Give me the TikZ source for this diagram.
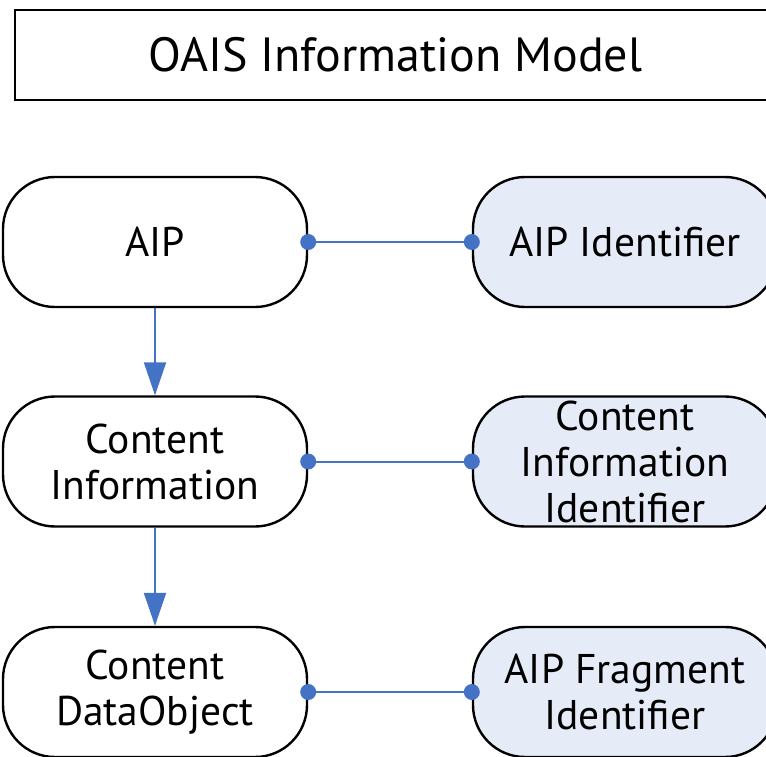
\documentclass[tikz,border=0pt]{standalone}
\usepackage{fontspec}
\setmainfont{PT Sans}
\usetikzlibrary{arrows.meta}
\definecolor{linkblue}{RGB}{68,114,196}
\definecolor{idfill}{RGB}{230,236,247}
\tikzset{
  titlebox/.style={draw=black, line width=1.8pt, minimum width=761pt, minimum height=90pt, inner sep=0pt, font=\fontsize{48}{56}\selectfont},
  objbox/.style={draw=black, line width=2.4pt, rounded corners=52pt, minimum width=304pt, minimum height=130pt, inner sep=0pt, align=center, font=\fontsize{41.5}{46}\selectfont},
  idbox/.style={objbox, fill=idfill},
  link/.style={draw=linkblue, line width=2pt},
  flow/.style={draw=linkblue, line width=2pt, -{Triangle[length=33pt,width=22pt]}},
  dotted end/.style={fill=linkblue, draw=none, circle, minimum size=16pt, inner sep=0pt}
}
\begin{document}
\begin{tikzpicture}[x=1pt,y=-1pt]
\useasboundingbox[fill=white] (0,0) rectangle (766,756);
\node[titlebox] (title) at (395.5,55) {OAIS Information Model};
\node[objbox] (aip) at (155,242) {AIP};
\node[idbox] (aipid) at (625,242) {AIP Identifier};
\node[objbox] (ci) at (155,461.5) {Content\\Information};
\node[idbox] (ciid) at (625,461.5) {Content\\Information\\Identifier};
\node[objbox] (cdo) at (155,692) {Content\\DataObject};
\node[idbox] (frag) at (625,692) {AIP Fragment\\Identifier};
\draw[flow] (aip.south) -- (ci.north);
\draw[flow] (ci.south) -- (cdo.north);
\foreach \a/\b in {aip/aipid, ci/ciid, cdo/frag}{
  \draw[link] (\a.east) -- (\b.west);
  \node[dotted end] at (\a.east) {};
  \node[dotted end] at (\b.west) {};
}
\end{tikzpicture}
\end{document}
